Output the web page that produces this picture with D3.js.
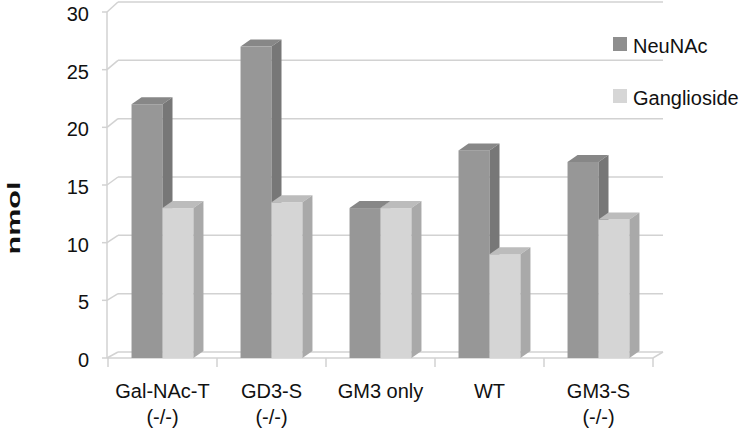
<!DOCTYPE html>
<html>
<head>
<meta charset="utf-8">
<script src="https://cdn.jsdelivr.net/npm/d3@7"></script>
<style>
  body { margin: 0; background: #fff; }
  text { font-family: "Liberation Sans", Arial, sans-serif; fill: #111; }
</style>
</head>
<body>
<svg id="chart" width="742" height="430"></svg>
<script>
// data
var categories = ["Gal-NAc-T (-/-)", "GD3-S (-/-)", "GM3 only", "WT", "GM3-S (-/-)"];
var catLines = [["Gal-NAc-T", "(-/-)"], ["GD3-S", "(-/-)"], ["GM3 only"], ["WT"], ["GM3-S", "(-/-)"]];
var series = ["NeuNAc", "Ganglioside"];
var neuNAc = [22, 27, 13, 18, 17];
var ganglioside = [13, 13.5, 13, 9, 12];
var yTicks = [0, 5, 10, 15, 20, 25, 30];

var values = [neuNAc, ganglioside];
var colors = {
  NeuNAc: { front: "#979797", top: "#878787", side: "#777777", key: "#8e8e8e" },
  Ganglioside: { front: "#d5d5d5", top: "#bcbcbc", side: "#a9a9a9", key: "#d6d6d6" }
};

var svg = d3.select("#chart");

// front plane and back wall scales (Excel style 3D)
var yFront = d3.scaleLinear().domain([0, 30]).range([358, 12]);
var yBack = d3.scaleLinear().domain([0, 30]).range([352, 2]);
var x = d3.scaleBand().domain(categories).range([108, 653]);
var xs = d3.scaleBand().domain(series).range([0, x.bandwidth()]).paddingOuter(0.76);
var dx = 10, dy = 7;
var backLeft = 118, backRight = 663;
var grid = "#d2d2d2";

// back wall gridlines
svg.selectAll(".grid").data(yTicks).enter().append("line")
  .attr("x1", backLeft).attr("x2", backRight)
  .attr("y1", d => yBack(d)).attr("y2", d => yBack(d))
  .attr("stroke", grid).attr("stroke-width", 1.5);

// side wall lines
svg.selectAll(".side").data(yTicks).enter().append("line")
  .attr("x1", 107).attr("x2", backLeft)
  .attr("y1", d => yFront(d)).attr("y2", d => yBack(d))
  .attr("stroke", grid).attr("stroke-width", 1.5);

// value axis
svg.append("line").attr("x1", 107).attr("x2", 107)
  .attr("y1", yFront(30)).attr("y2", yFront(0))
  .attr("stroke", grid).attr("stroke-width", 1.5);
svg.selectAll(".tick").data(yTicks).enter().append("line")
  .attr("x1", 102).attr("x2", 107)
  .attr("y1", d => yFront(d)).attr("y2", d => yFront(d))
  .attr("stroke", grid).attr("stroke-width", 1.5);
svg.selectAll(".ylab").data(yTicks).enter().append("text")
  .attr("x", 89).attr("y", d => yFront(d) + 9)
  .attr("text-anchor", "end").attr("font-size", 20)
  .text(d => d);

// floor
svg.append("path")
  .attr("d", "M107," + yFront(0) + "L653," + yFront(0) + "L" + backRight + "," + yBack(0))
  .attr("fill", "none").attr("stroke", grid).attr("stroke-width", 1.5);

// category ticks
var catTicks = categories.map(c => x(c)).concat([x.range()[1]]);
svg.selectAll(".ctick").data(catTicks).enter().append("line")
  .attr("x1", d => d).attr("x2", d => d)
  .attr("y1", yFront(0)).attr("y2", yFront(0) + 9)
  .attr("stroke", grid).attr("stroke-width", 1.5);

// bars
var y0 = yFront(0);
series.forEach(function (s, si) {
  var g = svg.append("g");
  categories.forEach(function (c, ci) {
    var v = values[si][ci];
    var x0 = x(c) + xs(s), w = xs.bandwidth(), yt = yFront(v);
    g.append("rect").attr("x", x0).attr("y", yt)
      .attr("width", w).attr("height", y0 - yt)
      .attr("fill", colors[s].front);
    g.append("path")
      .attr("d", "M" + x0 + "," + yt + "L" + (x0 + dx) + "," + (yt - dy) +
        "L" + (x0 + w + dx) + "," + (yt - dy) + "L" + (x0 + w) + "," + yt + "Z")
      .attr("fill", colors[s].top);
    g.append("path")
      .attr("d", "M" + (x0 + w) + "," + yt + "L" + (x0 + w + dx) + "," + (yt - dy) +
        "L" + (x0 + w + dx) + "," + (y0 - dy) + "L" + (x0 + w) + "," + y0 + "Z")
      .attr("fill", colors[s].side);
  });
});

// category labels
categories.forEach(function (c, ci) {
  var t = svg.append("text")
    .attr("x", x(c) + x.bandwidth() / 2)
    .attr("text-anchor", "middle").attr("font-size", 20);
  catLines[ci].forEach(function (line, li) {
    t.append("tspan").attr("x", x(c) + x.bandwidth() / 2)
      .attr("y", 398 + li * 26).text(line);
  });
});

// axis title
svg.append("text")
  .attr("transform", "translate(20,218) rotate(-90)")
  .attr("text-anchor", "middle")
  .attr("font-size", 19).attr("font-weight", "bold")
  .attr("textLength", 73).attr("lengthAdjust", "spacingAndGlyphs")
  .text("nmol");

// legend
var legend = svg.selectAll(".legend").data(series).enter().append("g")
  .attr("transform", (d, i) => "translate(613," + (37 + i * 52) + ")");
legend.append("rect").attr("width", 14).attr("height", 14)
  .attr("fill", d => colors[d].key);
legend.append("text").attr("x", 20).attr("y", 16)
  .attr("font-size", 20).text(d => d);
</script>
</body>
</html>
